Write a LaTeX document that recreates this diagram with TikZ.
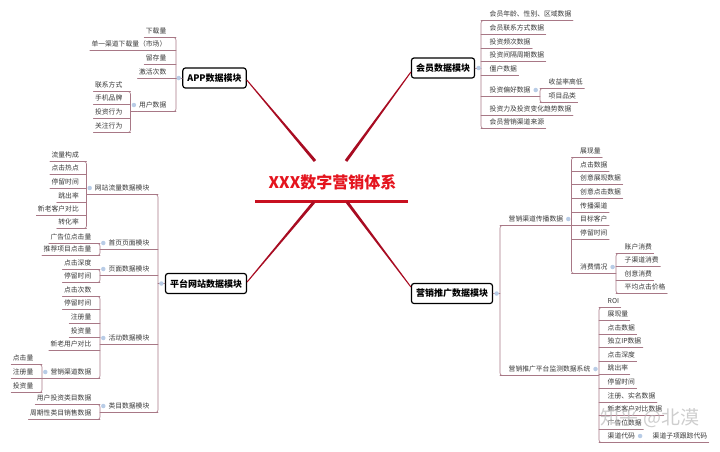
\documentclass[tikz,border=0pt]{standalone}
\usepackage{fontspec}
\setmainfont{Noto Sans CJK SC}
\usepackage{tikz}
\usetikzlibrary{calc}

\definecolor{corered}{RGB}{228,20,30}
\definecolor{barred}{RGB}{200,16,32}
\definecolor{spokered}{RGB}{168,12,34}
\definecolor{twigc}{RGB}{168,120,134}
\definecolor{leafgray}{RGB}{55,55,55}
\definecolor{knobc}{RGB}{184,204,230}

\tikzset{
  hub/.style={draw=black, line width=1.2pt, rounded corners=2.5pt, fill=white,
    font=\bfseries\fontsize{9}{10}\selectfont, inner xsep=4.5pt, minimum height=20pt},
  leaf/.style={font=\fontsize{6.8}{8}\selectfont, text=leafgray, inner xsep=1.5pt,
    inner ysep=3pt, text height=5.4pt, text depth=1.2pt},
  twig/.style={draw=twigc, line width=0.6pt},
  knob/.style={circle, fill=knobc, inner sep=0pt, minimum size=4.5pt},
  wmark/.style={font=\fontsize{19}{20}\selectfont, text=gray!55, opacity=0.7},
}

% leaves on the left: prefix, trunk x, text right x, last index, list
\newcommand{\leavesL}[5]{%
  \coordinate (#1T) at (#2,0);
  \foreach \lbl/\yy [count=\i] in {#5} {
    \node[leaf, anchor=east] (#1\i) at (#3,\yy) {\lbl};
    \draw[twig] (#1\i.south west) -- (#1\i.south -| #1T);
  }
  \ifnum#4>1
    \draw[twig, rounded corners=2.5pt] ($(#11.south -| #1T)+(-5,0)$) -- (#11.south -| #1T)
      -- (#1#4.south -| #1T) -- ++(-5,0);
  \fi
}
% leaves on the right: prefix, trunk x, text left x, last index, list
\newcommand{\leavesR}[5]{%
  \coordinate (#1T) at (#2,0);
  \foreach \lbl/\yy [count=\i] in {#5} {
    \node[leaf, anchor=west] (#1\i) at (#3,\yy) {\lbl};
    \draw[twig] (#1\i.south east) -- (#1\i.south -| #1T);
  }
  \ifnum#4>1
    \draw[twig, rounded corners=2.5pt] ($(#11.south -| #1T)+(5,0)$) -- (#11.south -| #1T)
      -- (#1#4.south -| #1T) -- ++(5,0);
  \fi
}
% parent to its own leaves
\newcommand{\linkL}[2]{%
  \draw[twig] (#2T |- #1.south) -- (#1.south west);
  \node[knob] (#1k) at ($(#1.west)+(-3.5,0)$) {};
}
\newcommand{\linkR}[2]{%
  \draw[twig] (#1.south east) -- (#2T |- #1.south);
  \node[knob] (#1k) at ($(#1.east)+(3.5,0)$) {};
}
% tapered red spoke
\newcommand{\spoke}[2]{%
  \fill[spokered] ($(#1)!1.5pt!90:(#2)$) -- ($(#2)!0.5pt!-90:(#1)$)
    -- ($(#2)!0.5pt!90:(#1)$) -- ($(#1)!1.5pt!-90:(#2)$) -- cycle;
}

\begin{document}
\begin{tikzpicture}[x=1pt, y=-1pt, line cap=round, line join=round]
  \useasboundingbox (0,0) rectangle (720,451);
  %--- Centre
    \node[font=\bfseries\fontsize{16}{18}\selectfont, text=corered] (core) at (332.5,182) {XXX数字营销体系};
    \coordinate (bar-w) at (255,201);
    \coordinate (bar-e) at (408,201);
    \draw[barred, line width=3pt, line cap=butt] (bar-w) -- (bar-e);
    \coordinate (nw) at (315,161);
    \coordinate (ne) at (346,161);
    \coordinate (sw) at (314,202);
    \coordinate (se) at (347,202);
  %--- Modules
    \node[hub] (app) at (214.5,78) {APP数据模块};
    \node[hub] (vip) at (443,68) {会员数据模块};
    \node[hub] (web) at (206,283.5) {平台网站数据模块};
    \node[hub] (ads) at (452,293.5) {营销推广数据模块};
    \spoke{nw}{$(app.east)+(0,2)$}
    \spoke{ne}{$(vip.west)+(0,4)$}
    \spoke{sw}{$(web.east)+(0,-1.5)$}
    \spoke{se}{$(ads.west)+(0,-6.5)$}
  %--- APP
    \leavesL{a}{176}{168}{5}{下载量/31, 单一渠道下载量（市场）/44, 留存量/58, 激活次数/72, 用户数据/105}
    \leavesL{au}{130.5}{124}{4}{联系方式/85, 手机品牌/98, 投资行为/112, 关注行为/126}
    \linkL{a5}{au}
    \draw[twig] (app.west) -- (app.west -| aT);
    \node[knob] (appk) at ($(app.west)+(-3.5,0)$) {};
  %--- Members
    \leavesR{m}{481}{488}{8}{会员年龄、性别、区域数据/14, 会员联系方式数据/28, 投资频次数据/42,
      投资间隔周期数据/55, 僵户数据/69, 投资偏好数据/90, 投资力及投资变化趋势数据/109, 会员营销渠道来源/122}
    \leavesR{mp}{540}{547}{2}{收益率高低/82, 项目品类/96}
    \linkR{m6}{mp}
    \draw[twig] (vip.east) -- (vip.east -| mT);
    \node[knob] (vipk) at ($(vip.east)+(3.5,0)$) {};
  %--- Website
    \leavesL{w}{158}{151}{5}{网站流量数据模块/188, 首页页面模块/243, 页面数据模块/269, 活动数据模块/338, 类目数据模块/406}
    \leavesL{wf}{86.5}{80.5}{6}{流量构成/155, 点击热点/168, 停留时间/182, 跳出率/196, 新老客户对比/209, 转化率/222}
    \leavesL{wh}{100}{93}{2}{广告位点击量/237, 推荐项目点击量/249}
    \leavesL{wp}{100}{93}{2}{点击深度/263, 停留时间/276}
    \leavesL{wa}{100}{93}{6}{点击次数/290, 停留时间/303, 注册量/317, 投资量/331, 新老用户对比/344, 营销渠道数据/372}
    \leavesL{wm}{42}{35}{3}{点击量/358, 注册量/372, 投资量/386}
    \leavesL{wc}{100}{93}{2}{用户投资类目数据/398, 周期性类目销售数据/413}
    \linkL{w1}{wf}
    \linkL{w2}{wh}
    \linkL{w3}{wp}
    \linkL{w4}{wa}
    \linkL{wa6}{wm}
    \linkL{w5}{wc}
    \draw[twig] (web.west) -- (web.west -| wT);
    \node[knob] (webk) at ($(web.west)+(-3.5,0)$) {};
  %--- Promotion
    \leavesR{s}{500}{507}{2}{营销渠道传播数据/219, 营销推广平台监测数据系统/369}
    \leavesR{sc}{571.5}{578.5}{8}{展现量/151, 点击数据/165, 创意展现数据/178, 创意点击数据/192,
      传播渠道/206, 目标客户/219, 停留时间/233, 消费情况/267}
    \leavesR{sx}{616}{623}{4}{账户消费/247, 子渠道消费/260, 创意消费/274, 平均点击价格/287}
    \leavesR{sm}{599}{606}{11}{ROI/301, 展现量/314, 点击数据/328, 独立IP数据/341, 点击深度/355, 跳出率/368,
      停留时间/382, 注册、实名数据/396, 新老客户对比数据/409, 广告位数据/423, 渠道代码/436}
    \leavesR{sk}{643.5}{651}{1}{渠道子项跟踪代码/436}
    \linkR{s1}{sc}
    \linkR{sc8}{sx}
    \linkR{s2}{sm}
    \linkR{sm11}{sk}
    \draw[twig] (ads.east) -- (ads.east -| sT);
    \node[knob] (adsk) at ($(ads.east)+(3.5,0)$) {};
  %--- Watermark
    \node[wmark] (zhihu) at (650,418) {知乎 @北漠};
\end{tikzpicture}
\end{document}
